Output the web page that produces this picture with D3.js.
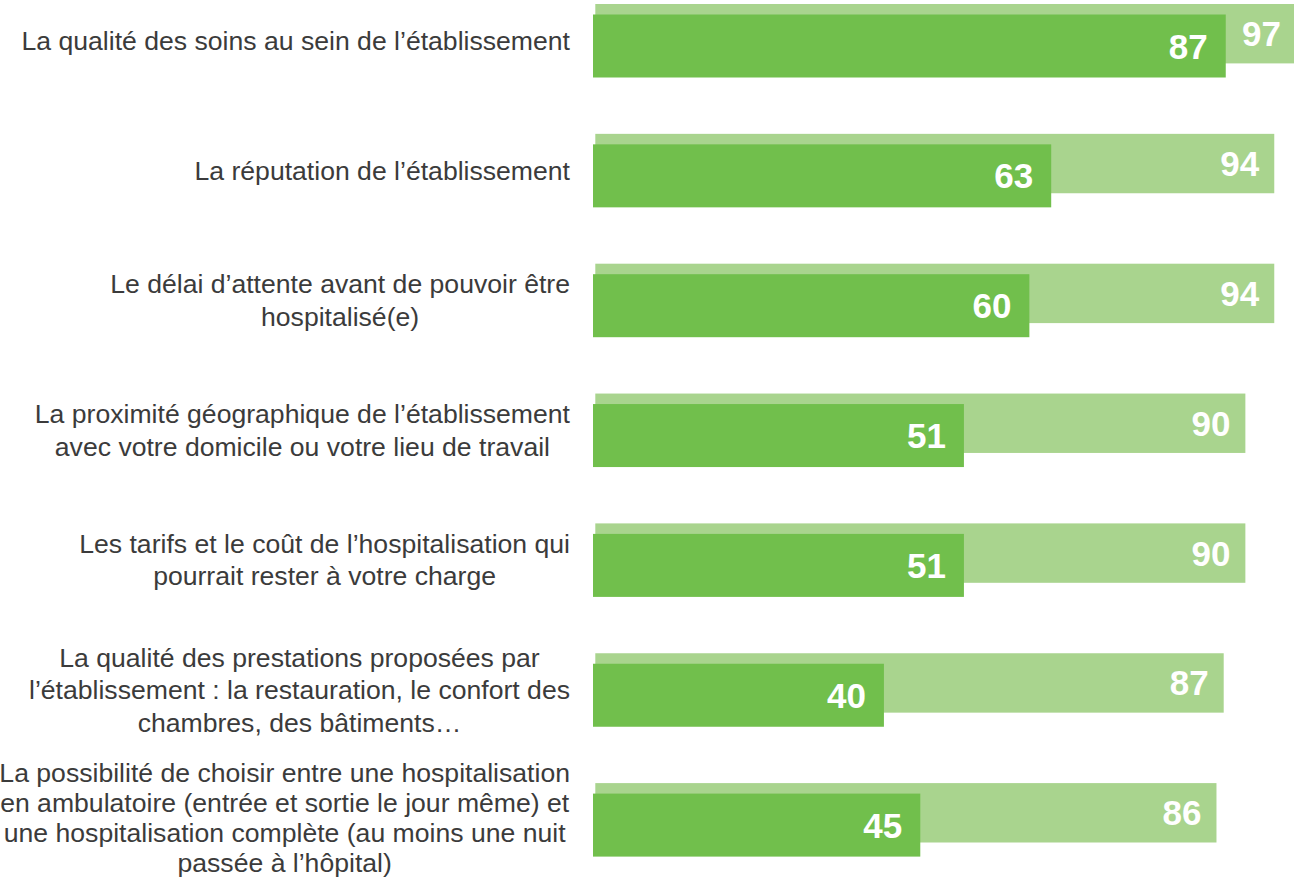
<!DOCTYPE html>
<html>
<head>
<meta charset="utf-8">
<script src="https://cdnjs.cloudflare.com/ajax/libs/d3/7.8.5/d3.min.js"></script>
<style>
  body { margin: 0; background: #fff; }
  svg { display: block; }
</style>
</head>
<body>
<div id="chart"></div>
<script>
// libellés (une ligne par élément)
const labels = [
  ["La qualité des soins au sein de l’établissement"],
  ["La réputation de l’établissement"],
  ["Le délai d’attente avant de pouvoir être", "hospitalisé(e)"],
  ["La proximité géographique de l’établissement", "avec votre domicile ou votre lieu de travail"],
  ["Les tarifs et le coût de l’hospitalisation qui", "pourrait rester à votre charge"],
  ["La qualité des prestations proposées par", "l’établissement : la restauration, le confort des", "chambres, des bâtiments…"],
  ["La possibilité de choisir entre une hospitalisation", "en ambulatoire (entrée et sortie le jour même) et", "une hospitalisation complète (au moins une nuit", "passée à l’hôpital)"]
];
const categories = labels.map(l => l.join(" "));

// valeurs
const totalValues = [97, 94, 94, 90, 90, 87, 86];
const mainValues = [87, 63, 60, 51, 51, 40, 45];

const width = 1294;
const height = 880;

const svg = d3.select("#chart")
  .append("svg")
  .attr("width", width)
  .attr("height", height);

// échelles
const y = d3.scaleBand()
  .domain(categories)
  .range([4, 4 + 7 * 129.85])
  .padding(0);

const xLight = d3.scaleLinear().domain([0, 100]).range([595.3, 595.3 + 722.3]);
const xDark = d3.scaleLinear().domain([0, 100]).range([593, 593 + 727.3]);

const lightH = 59.4;
const darkOff = 10.5;
const darkH = 63;

// barres claires
svg.selectAll("rect.light")
  .data(totalValues)
  .join("rect")
  .attr("class", "light")
  .attr("x", xLight(0))
  .attr("y", (d, i) => y(categories[i]))
  .attr("width", d => xLight(d) - xLight(0))
  .attr("height", lightH)
  .attr("fill", "#a9d48e");

svg.selectAll("text.light")
  .data(totalValues)
  .join("text")
  .attr("class", "light")
  .attr("x", d => xLight(d) - 15)
  .attr("y", (d, i) => y(categories[i]) + lightH / 2 + 12.5)
  .attr("text-anchor", "end")
  .attr("font-family", "'Liberation Sans', Arial, sans-serif")
  .attr("font-weight", "bold")
  .attr("font-size", 35)
  .attr("fill", "#fff")
  .text(d => d);

// barres foncées
svg.selectAll("rect.dark")
  .data(mainValues)
  .join("rect")
  .attr("class", "dark")
  .attr("x", xDark(0))
  .attr("y", (d, i) => y(categories[i]) + darkOff)
  .attr("width", d => xDark(d) - xDark(0))
  .attr("height", darkH)
  .attr("fill", "#71bf4c");

svg.selectAll("text.dark")
  .data(mainValues)
  .join("text")
  .attr("class", "dark")
  .attr("x", d => xDark(d) - 18)
  .attr("y", (d, i) => y(categories[i]) + darkOff + darkH / 2 + 12.5)
  .attr("text-anchor", "end")
  .attr("font-family", "'Liberation Sans', Arial, sans-serif")
  .attr("font-weight", "bold")
  .attr("font-size", 35)
  .attr("fill", "#fff")
  .text(d => d);

// libellés des catégories
const labelRight = 570;
labels.forEach((lines, i) => {
  const lineH = lines.length > 3 ? 30 : 32.5;
  const cy = y(categories[i]) + (darkOff + darkH) / 2;
  const t = svg.append("text")
    .attr("font-family", "'Liberation Sans', Arial, sans-serif")
    .attr("font-size", 26.6)
    .attr("fill", "#3b3b3b")
    .attr("text-anchor", "middle");
  const spans = t.selectAll("tspan")
    .data(lines)
    .join("tspan")
    .text(d => d);
  let maxW = 0;
  spans.each(function() { maxW = Math.max(maxW, this.getComputedTextLength()); });
  const top = cy - (lines.length - 1) * lineH / 2 + (lines.length > 3 ? 7 : 9);
  spans
    .attr("x", labelRight - maxW / 2)
    .attr("y", (d, j) => top + j * lineH);
});
</script>
</body>
</html>
